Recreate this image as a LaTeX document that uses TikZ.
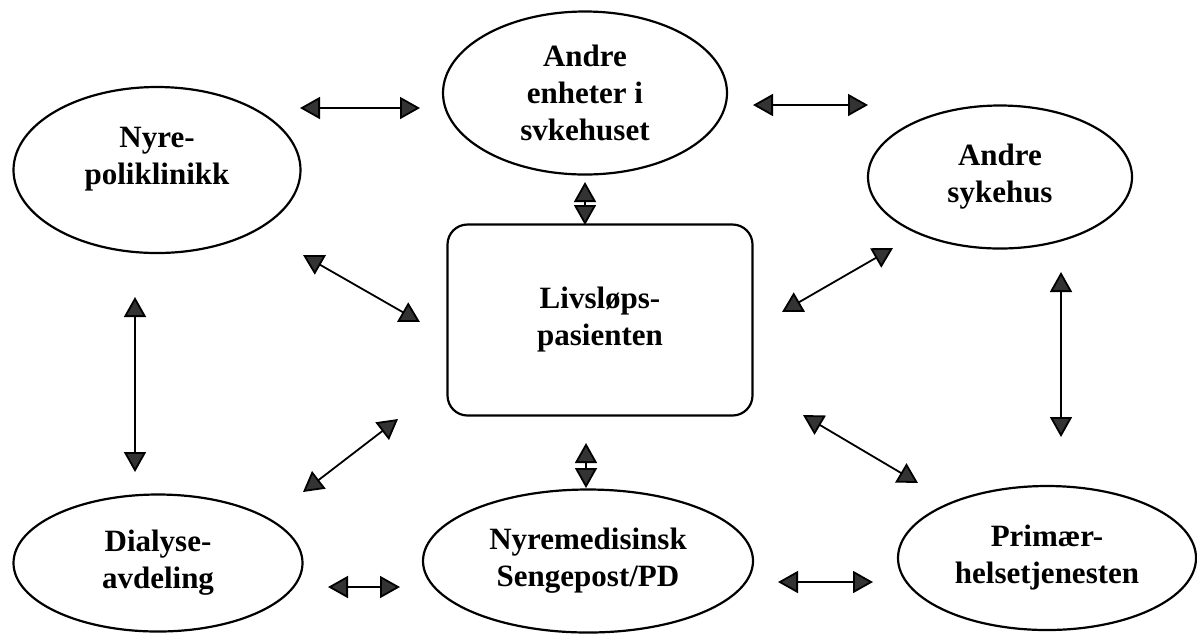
\documentclass[tikz,border=0pt]{standalone}
\usepackage{fontspec}
\setmainfont{Liberation Serif}
\usetikzlibrary{arrows.meta,shapes.geometric}
\tikzset{
unit/.style={ellipse,draw,line width=1.1pt,inner sep=0pt,align=center,
font=\bfseries\fontsize{15.5}{18.5}\selectfont},
link/.style={{Triangle[length=10pt,width=11pt,fill=black!80]}-{Triangle[length=10pt,width=11pt,fill=black!80]},line width=0.9pt}
}
\begin{document}
\begin{tikzpicture}[x=0.5pt,y=-0.5pt]
\useasboundingbox (0,0) rectangle (1197,634);
\node [unit,minimum width=143.5pt,minimum height=83pt]at(157,170)(poli){Nyre-\\poliklinikk\\[-4pt]};
\node [unit,minimum width=142pt,minimum height=81.5pt]at(585,93)(enheter){Andre\\enheter i\\svkehuset};
\node [unit,minimum width=132pt,minimum height=71.5pt]at(1000,177)(sykehus){Andre\\sykehus};
\node [draw,line width=1.1pt,rounded corners=10pt,minimum width=152.5pt,minimum height=95.5pt,
align=center,font=\bfseries\fontsize{15.5}{18.5}\selectfont]at(600,320)(pasient){Livsløps-\\pasienten};
\node [unit,minimum width=144.5pt,minimum height=68.5pt]at(158,563)(dialyse){Dialyse-\\avdeling};
\node [unit,minimum width=165pt,minimum height=71.5pt]at(588,561)(senge){Nyremedisinsk\\Sengepost/PD};
\node [unit,minimum width=149pt,minimum height=72pt]at(1047,558)(primaer){Primær-\\helsetjenesten};
% ends of the arrows
\coordinate (pe1) at (300,108); \coordinate (pe2) at (420,108);
\coordinate (es1) at (753,105); \coordinate (es2) at (868,105);
\coordinate (ep1) at (585,182); \coordinate (ep2) at (585,225);
\coordinate (pp1) at (303,255); \coordinate (pp2) at (420,322);
\coordinate (sp1) at (893,248); \coordinate (sp2) at (782,312);
\coordinate (pd1) at (135,297); \coordinate (pd2) at (135,472);
\coordinate (sh1) at (1061,272); \coordinate (sh2) at (1061,437);
\coordinate (dp1) at (398,419); \coordinate (dp2) at (303,492);
\coordinate (ps1) at (586,443); \coordinate (ps2) at (586,488);
\coordinate (ph1) at (803,415); \coordinate (ph2) at (918,483);
\coordinate (ds1) at (328,587); \coordinate (ds2) at (400,587);
\coordinate (sh3) at (778,582); \coordinate (sh4) at (873,582);
\draw [link](pe1)--(pe2);\draw [link](es1)--(es2);\draw [link](ep1)--(ep2);
\draw [link](pp1)--(pp2);\draw [link](sp1)--(sp2);\draw [link](pd1)--(pd2);
\draw [link](sh1)--(sh2);\draw [link](dp1)--(dp2);\draw [link](ps1)--(ps2);
\draw [link](ph1)--(ph2);\draw [link](ds1)--(ds2);\draw [link](sh3)--(sh4);
\end{tikzpicture}
\end{document}
